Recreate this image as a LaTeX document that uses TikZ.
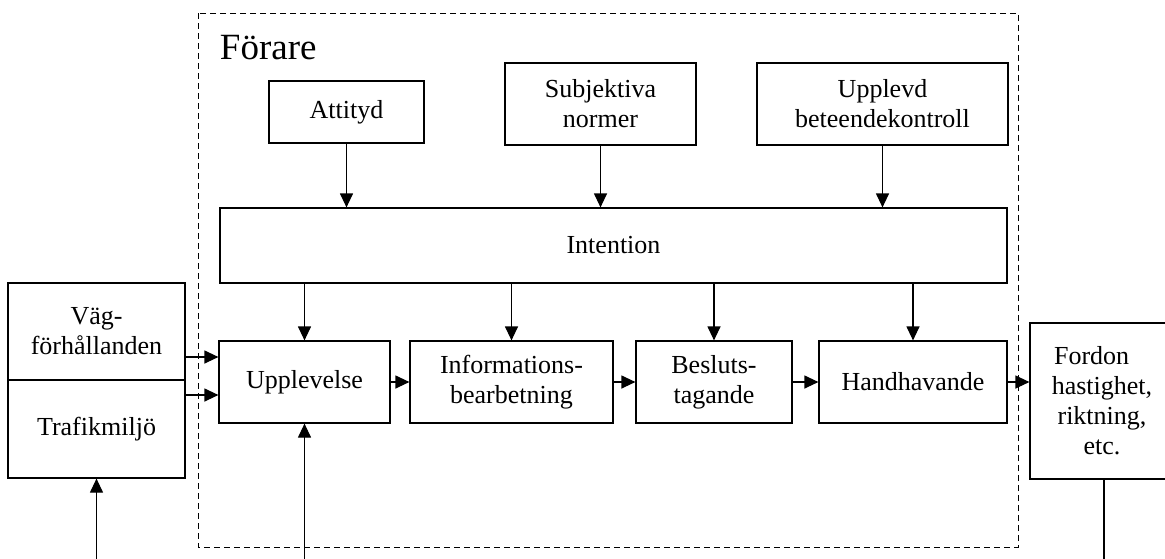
\documentclass[tikz,border=0pt]{standalone}
\usepackage{fontspec}
\setmainfont{Liberation Serif}
\usetikzlibrary{arrows.meta}
\begin{document}
\begin{tikzpicture}[x=1pt,y=-1pt,line width=1.2pt,
  every node/.style={font=\fontsize{26}{30}\selectfont},
  blk/.style={draw,align=center,inner sep=0pt},
  arr/.style={-{Triangle[length=14pt,width=13pt]}}]
\useasboundingbox (0,0) rectangle (1165,558);
% driver frame
\draw[dash pattern=on 6pt off 4pt,line width=1pt] (198,13) rectangle (1018,547);
\node[anchor=base west,font=\fontsize{37}{40}\selectfont] (forare) at (216,59) {Förare};
% attitudes
\node[blk,minimum width=155pt,minimum height=62pt] (att) at (346.5,112) {Attityd};
\node[blk,minimum width=191pt,minimum height=82pt] (sub) at (600.5,104) {Subjektiva\\normer};
\node[blk,minimum width=251pt,minimum height=82pt] (upk) at (882.5,104) {Upplevd\\beteendekontroll};
\node[blk,minimum width=787pt,minimum height=75pt] (int) at (613.5,245.5) {Intention};
% process chain
\node[blk,minimum width=171pt,minimum height=82pt] (upl) at (304.5,382) {Upplevelse};
\node[blk,minimum width=203pt,minimum height=82pt] (inf) at (511.5,382) {Informations-\\bearbetning};
\node[blk,minimum width=156pt,minimum height=82pt] (bes) at (714,382) {Besluts-\\tagande};
\node[blk,minimum width=188pt,minimum height=82pt] (han) at (913,382) {Handhavande};
% environment and vehicle
\node[blk,minimum width=177pt,minimum height=97pt] (vag) at (96.5,331.5) {Väg-\\förhållanden};
\node[blk,minimum width=177pt,minimum height=98pt] (tra) at (96.5,429) {Trafikmiljö};
\node[blk,minimum width=144pt,minimum height=156pt] (ford) at (1102,401) {Fordon\hspace*{0.8em}\\hastighet,\\riktning,\\etc.};
\coordinate (in1) at ([yshift=25pt]upl.west);
\coordinate (in2) at ([yshift=-13pt]upl.west);
\coordinate (b1) at (96.5,560);
\coordinate (b2) at (304.5,560);
\coordinate (b3) at (1104,560);
\draw[arr] (att) -- (att |- int.north);
\draw[arr] (sub) -- (sub |- int.north);
\draw[arr] (upk) -- (upk |- int.north);
\draw[arr] (int.south -| upl) -- (upl);
\draw[arr] (int.south -| inf) -- (inf);
\draw[arr] (int.south -| bes) -- (bes);
\draw[arr] (int.south -| han) -- (han);
\draw[arr] (upl) -- (inf);
\draw[arr] (inf) -- (bes);
\draw[arr] (bes) -- (han);
\draw[arr] (han) -- (han -| ford.west);
\draw[arr] (vag.east |- in1) -- (in1);
\draw[arr] (tra.east |- in2) -- (in2);
\draw[arr] (b1) -- (tra);
\draw[arr] (b2) -- (upl);
\draw (b3) -- (b3 |- ford.south);
\end{tikzpicture}
\end{document}
